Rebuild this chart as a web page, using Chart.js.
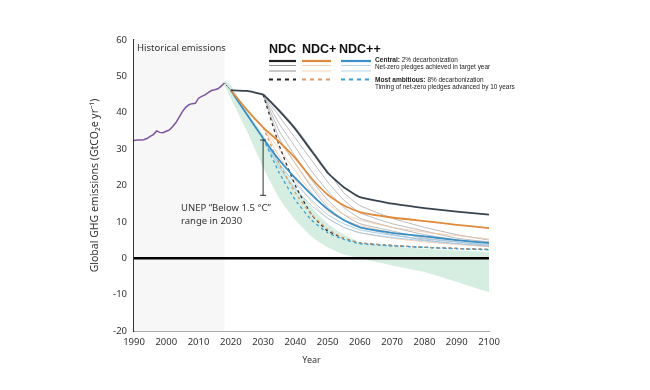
<!DOCTYPE html>
<html><head><meta charset="utf-8">
<script src="https://cdn.jsdelivr.net/npm/chart.js@4/dist/chart.umd.min.js"></script>
<style>html,body{margin:0;padding:0;background:#fff;}canvas{display:block;}</style>
</head><body>
<canvas id="c" width="650" height="390"></canvas>
<script>
const histYears = [1990,1991,1992,1993,1994,1995,1996,1997,1998,1999,2000,2001,2002,2003,2004,2005,2006,2007,2008,2009,2010,2011,2012,2013,2014,2015,2016,2017,2018];
const histValues = [32.4,32.5,32.5,32.6,32.9,33.5,34.0,35.0,34.6,34.5,34.9,35.3,36.2,37.3,38.8,40.3,41.5,42.2,42.5,42.6,44.0,44.5,44.9,45.5,46.1,46.3,46.6,47.3,48.2];
const connectorYears = [2018,2020];
const connectorValues = [48.2,46.2];
const projYears = [2020,2025,2030,2035,2040,2045,2050,2055,2060,2070,2080,2090,2100];
const ndcCentral = [46.2,46.0,45.0,40.5,35.5,29.5,23.5,19.5,16.8,15.0,13.8,12.8,12.0];
const ndcPlusCentral = [46.2,40.8,36.0,32.0,27.5,22.0,17.5,14.5,12.7,11.2,10.2,9.2,8.3];
const ndcPlusPlusCentral = [46.2,39.5,33.0,27.0,22.0,17.5,13.5,10.5,8.5,7.0,6.0,5.0,4.2];
const laterYears = [2030,2035,2040,2045,2050,2055,2060,2070,2080,2090,2100];
const ndcNetZero = [
  [45,41,36,30,24,18,14.5,11.0,8.5,6.5,5.0],
  [45,39,33,27,21,16,12.5,9.5,7.5,5.5,4.5],
  [45,37,30.5,24,18.5,14,11,8.5,6.5,5.0,4.0],
  [45,35,28,21.5,16,12,9.5,7.5,5.5,4.5,3.5],
  [45,33,26,19.5,14,10.5,8.5,6.5,5,4,3.2]
];
const ndcPlusNetZero = [
  [36,32,26,20,15,12,10.5,8.5,7.2,6.2,5.3],
  [36,30,24,18,13,10.5,9,7,6,5,4.2],
  [36,28,21.5,15.5,11,8.5,7,5.5,4.5,3.8,3.2]
];
const ndcPlusPlusNetZero = [
  [33,26,20.5,16,12,9.5,7.8,6.3,5.3,4.5,3.8],
  [33,25,19,14.5,11,8.5,7,5.7,4.8,4,3.4]
];
const ndcAmbitious = [45,31,20,12,7.5,5.5,4.2,3.5,3.0,2.7,2.4];
const ndcPlusAmbitious = [36,26,18,12,8,5.5,4.2,3.5,3.0,2.7,2.4];
const ndcPlusPlusAmbitious = [33,23.5,16,10.5,7,5.2,4.0,3.4,3.0,2.6,2.3];
const bandYears = [2018,2020,2025,2030,2035,2040,2045,2050,2055,2060,2070,2080,2090,2100];
const bandUpper = [49,47.5,40.5,34,26.5,19.5,14,9.5,6.5,4.5,3.3,2.6,2.1,1.7];
const bandLower = [47.5,44,35,25,16.5,10.5,6,3,1,0,-2,-3.8,-6.5,-9.3];
const unepYear = 2030, unepLow = 17.3, unepHigh = 32.5;
const histShadeEnd = 2018;
const xTicks = [1990,2000,2010,2020,2030,2040,2050,2060,2070,2080,2090,2100];
const yTicks = [-20,-10,0,10,20,30,40,50,60];

const pts = (xs, ys) => xs.map((x,i)=>({x, y: ys[i]}));
const FONT = "'Noto Sans', 'Liberation Sans', sans-serif";
const NARROW = "'Liberation Sans', sans-serif";

const base = {pointRadius:0, pointHoverRadius:0, fill:false, tension:0.15};
const datasets = [];
datasets.push({...base, order:100, data: pts(bandYears, bandLower), borderWidth:0, borderColor:'rgba(0,0,0,0)'});
datasets.push({...base, order:99, data: pts(bandYears, bandUpper), borderWidth:0, borderColor:'rgba(0,0,0,0)', fill:'-1', backgroundColor:'rgba(210,236,222,0.9)'});
datasets.push({...base, order:5, data: pts([1990,2100],[0,0]), borderColor:'#000', borderWidth:2.5, tension:0});
ndcNetZero.forEach(s=>datasets.push({...base, order:60, data: pts(laterYears, s), borderColor:'#a9a9ae', borderWidth:0.8}));
ndcPlusNetZero.forEach(s=>datasets.push({...base, order:55, data: pts(laterYears, s), borderColor:'#f2c4a2', borderWidth:0.8}));
ndcPlusPlusNetZero.forEach(s=>datasets.push({...base, order:50, data: pts(laterYears, s), borderColor:'#9cc7e5', borderWidth:0.9}));
datasets.push({...base, order:40, data: pts(laterYears, ndcAmbitious), borderColor:'#333', borderWidth:1.3, borderDash:[3,3]});
datasets.push({...base, order:39, data: pts(laterYears, ndcPlusAmbitious), borderColor:'#dc9a6a', borderWidth:1.3, borderDash:[3,3]});
datasets.push({...base, order:38, data: pts(laterYears, ndcPlusPlusAmbitious), borderColor:'#3d9fd3', borderWidth:1.3, borderDash:[3,3]});
datasets.push({...base, order:30, data: pts(projYears, ndcPlusPlusCentral), borderColor:'#3a8fc4', borderWidth:1.8});
datasets.push({...base, order:29, data: pts(projYears, ndcPlusCentral), borderColor:'#e08a3c', borderWidth:1.8});
datasets.push({...base, order:28, data: pts(projYears, ndcCentral), borderColor:'#36424e', borderWidth:1.8, tension:0.1});
datasets.push({...base, order:10, data: pts(connectorYears, connectorValues), borderColor:'#333', borderWidth:1, borderDash:[1.5,1.5], tension:0});
datasets.push({...base, order:9, data: pts(histYears, histValues), borderColor:'#7d529f', borderWidth:1.5, tension:0});

const shadePlugin = {
  id:'shade',
  beforeDatasetsDraw(chart){
    const {ctx, chartArea:a, scales:{x}} = chart;
    ctx.save();
    ctx.fillStyle = '#f7f7f8';
    const x0 = x.getPixelForValue(1990), x1 = x.getPixelForValue(histShadeEnd);
    ctx.fillRect(x0, a.top, x1-x0, a.bottom-a.top);
    ctx.fillStyle = '#333';
    ctx.font = `9.5px ${FONT}`;
    ctx.textBaseline = 'middle';
    ctx.fillText('Historical emissions', x0+3, a.top+8);
    ctx.restore();
  }
};
const annoPlugin = {
  id:'anno',
  afterDatasetsDraw(chart){
    const {ctx, scales:{x,y}} = chart;
    ctx.save();
    const ux = x.getPixelForValue(unepYear), y1 = y.getPixelForValue(unepHigh), y2 = y.getPixelForValue(unepLow);
    ctx.strokeStyle = '#333'; ctx.lineWidth = 1;
    ctx.beginPath();
    ctx.moveTo(ux, y1); ctx.lineTo(ux, y2);
    ctx.moveTo(ux-3, y1); ctx.lineTo(ux+3, y1);
    ctx.moveTo(ux-3, y2); ctx.lineTo(ux+3, y2);
    ctx.stroke();
    ctx.fillStyle = '#333';
    ctx.font = `9.5px ${FONT}`;
    ctx.textBaseline = 'middle';
    ctx.fillText('UNEP \u201CBelow 1.5 \u00B0C\u201D', 181, 208);
    ctx.fillText('range in 2030', 181, 221);
    // legend
    ctx.font = `bold 12.5px ${NARROW}`;
    ctx.fillStyle = '#111';
    ctx.fillText('NDC', 269, 50);
    ctx.fillText('NDC+', 302, 50);
    ctx.fillText('NDC++', 339, 50);
    const cols = [[269,296,'#222','#777','#222'],[302,331,'#e08a3c','#f0c9a8','#dc9a6a'],[341,371,'#3a8fc4','#9fc9e6','#3d9fd3']];
    cols.forEach(([a,b,c,t,d])=>{
      ctx.strokeStyle=c; ctx.lineWidth=2.2; ctx.setLineDash([]);
      ctx.beginPath(); ctx.moveTo(a,61); ctx.lineTo(b,61); ctx.stroke();
      ctx.strokeStyle=t; ctx.lineWidth=0.8;
      ctx.beginPath(); ctx.moveTo(a,65.5); ctx.lineTo(b,65.5); ctx.moveTo(a,71); ctx.lineTo(b,71); ctx.stroke();
      ctx.strokeStyle=d; ctx.lineWidth=2.2; ctx.setLineDash([4,4]);
      ctx.beginPath(); ctx.moveTo(a,79.5); ctx.lineTo(b,79.5); ctx.stroke();
      ctx.setLineDash([]);
    });
    ctx.fillStyle='#222';
    ctx.font = `bold 6.6px ${NARROW}`;
    ctx.fillText('Central:', 375, 60);
    let w = ctx.measureText('Central: ').width;
    ctx.font = `6.4px ${NARROW}`;
    ctx.fillText('2% decarbonization', 375+w, 60);
    ctx.fillText('Net-zero pledges achieved in target year', 375, 67.5);
    ctx.font = `bold 6.6px ${NARROW}`;
    ctx.fillText('Most ambitious:', 375, 80.5);
    w = ctx.measureText('Most ambitious: ').width;
    ctx.font = `6.4px ${NARROW}`;
    ctx.fillText('8% decarbonization', 375+w, 80.5);
    ctx.fillText('Timing of net-zero pledges advanced by 10 years', 375, 87.5);
    ctx.restore();
  }
};

new Chart(document.getElementById('c'), {
  type:'line',
  data:{datasets},
  plugins:[shadePlugin, annoPlugin],
  options:{
    responsive:false, animation:false,
    layout:{padding:{left:85, top:40, right:161, bottom:22}},
    plugins:{legend:{display:false}, tooltip:{enabled:false}},
    scales:{
      x:{type:'linear', min:1990, max:2100,
        afterFit(s){ s.height = 37; },
        afterBuildTicks(s){ s.ticks = xTicks.map(v=>({value:v})); },
        grid:{display:false, drawOnChartArea:false, drawTicks:true, tickLength:4, color:'#999'},
        border:{display:true, color:'#aaa', width:1},
        ticks:{color:'#333', font:{size:9.5, family:FONT}, padding:2, maxRotation:0, callback:v=>String(v)},
        title:{display:true, text:'Year', color:'#333', font:{size:9, family:FONT}, padding:{top:2,bottom:2}}
      },
      y:{type:'linear', min:-20, max:60,
        afterFit(s){ s.width = 49; },
        afterBuildTicks(s){ s.ticks = yTicks.map(v=>({value:v})); },
        grid:{display:false, drawOnChartArea:false, drawTicks:true, tickLength:4, color:'#333'},
        border:{display:true, color:'#333', width:1.2},
        ticks:{color:'#333', font:{size:9.5, family:FONT}, padding:3},
        title:{display:true, text:'Global GHG emissions (GtCO\u2082e yr\u207B\u00B9)', color:'#333', font:{size:10.5, family:FONT}, padding:{top:4,bottom:4}}
      }
    }
  }
});
</script>
</body></html>
